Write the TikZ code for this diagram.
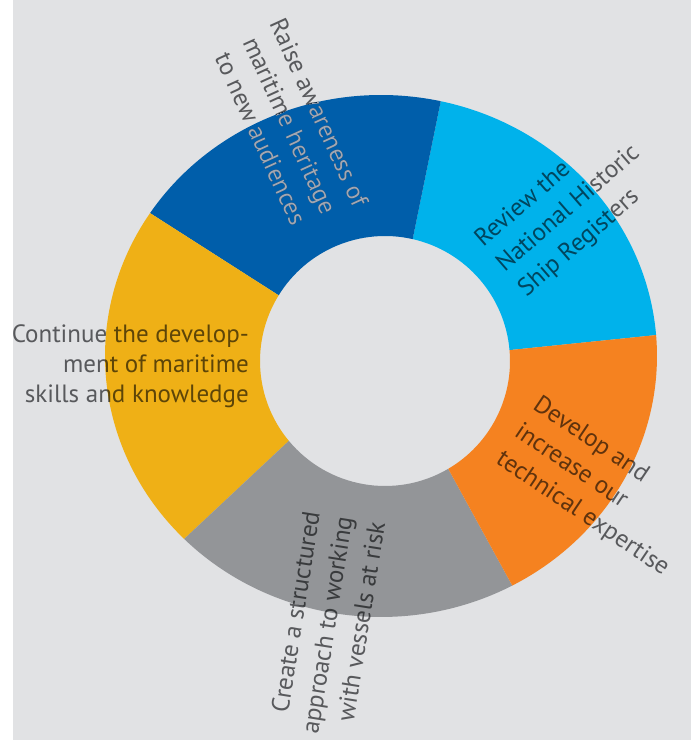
\documentclass[tikz,border=0pt]{standalone}
\usepackage{fontspec}
\newfontfamily\labfont{PT Sans}
\definecolor{bgc}{HTML}{E1E2E4}
\definecolor{segblue}{HTML}{005EAA}
\definecolor{segcyan}{HTML}{00B2EB}
\definecolor{segorange}{HTML}{F58220}
\definecolor{seggrey}{HTML}{939598}
\definecolor{segyellow}{HTML}{EFB016}
\definecolor{labc}{HTML}{646568}
\definecolor{labonblue}{HTML}{A0A7B4}
\newcommand\raiselines[2]{%
  \node[lab,anchor=base,text=#2] (#1a) at (0,0) {Raise awareness of};
  \node[lab,anchor=base,text=#2] (#1b) at (0,-32) {maritime heritage};
  \node[lab,anchor=base,text=#2] (#1c) at (0,-64) {to new audiences};}
\begin{document}
\begin{tikzpicture}[x=1pt,y=1pt,
  lab/.style={font=\labfont\fontsize{25}{31}\selectfont, text=labc, inner sep=0pt, transform shape}]
\useasboundingbox (0,0) rectangle (691,740);
\fill[white] (0,0) rectangle (13,740);
\fill[bgc] (13,0) rectangle (691,740);
\coordinate (O) at (381,384);
\coordinate (I) at (385,379);
% cyan
\fill[segcyan] ([shift={(O)}] 4.6:276 and 261) arc[start angle=4.6,end angle=77.5,x radius=276,y radius=261]
  -- ([shift={(I)}] 77.2:125) arc[start angle=77.2,end angle=5,radius=125] -- cycle;
% blue
\fill[segblue] ([shift={(O)}] 77.5:276 and 261) arc[start angle=77.5,end angle=146.8,x radius=276,y radius=261]
  -- ([shift={(I)}] 148.3:125) arc[start angle=148.3,end angle=77.2,radius=125] -- cycle;
% yellow
\fill[segyellow] ([shift={(O)}] 146.8:276 and 261) arc[start angle=146.8,end angle=224.5,x radius=276,y radius=261]
  -- ([shift={(I)}] 219.7:125) arc[start angle=219.7,end angle=148.3,radius=125] -- cycle;
% grey
\fill[seggrey] ([shift={(O)}] 224.5:276 and 261) arc[start angle=224.5,end angle=298.4,x radius=276,y radius=261]
  -- ([shift={(I)}] 300.4:125) arc[start angle=300.4,end angle=219.7,radius=125] -- cycle;
% orange
\fill[segorange] ([shift={(O)}] -61.6:276 and 261) arc[start angle=-61.6,end angle=4.6,x radius=276,y radius=261]
  -- ([shift={(I)}] 5:125) arc[start angle=5,end angle=-59.6,radius=125] -- cycle;
% labels
\begin{scope}[blend mode=multiply]
\begin{scope}[shift={(311.2,624.1)},rotate=-65.5]
  \raiselines{ra}{labc}
\end{scope}
\begin{scope}[shift={(483.1,492)},rotate=41]
  \node[lab,anchor=base west] (rv1) at (0,0) {Review the};
  \node[lab,anchor=base west] (rv2) at (0,-33) {National Historic};
  \node[lab,anchor=base west] (rv3) at (0,-66) {Ship Registers};
\end{scope}
\begin{scope}[shift={(531.7,332)},rotate=-34]
  \node[lab,anchor=base west] (dv1) at (0,0) {Develop and};
  \node[lab,anchor=base west] (dv2) at (0,-33) {increase our};
  \node[lab,anchor=base west] (dv3) at (0,-66) {technical expertise};
\end{scope}
\begin{scope}[shift={(320,227.2)},rotate=81]
  \node[lab,anchor=base east] (cr1) at (0,0) {Create a structured};
  \node[lab,anchor=base east] (cr2) at (0,-33) {approach to working};
  \node[lab,anchor=base east] (cr3) at (0,-66) {with vessels at risk};
\end{scope}
\node[lab,anchor=base east] (ct1) at (249,397) {Continue the develop-};
\node[lab,anchor=base east] (ct2) at (249,367) {ment of maritime};
\node[lab,anchor=base east] (ct3) at (249,337) {skills and knowledge};
\end{scope}
\begin{scope}
\clip ([shift={(O)}] 77.5:276 and 261) arc[start angle=77.5,end angle=146.8,x radius=276,y radius=261]
  -- ([shift={(I)}] 148.3:125) arc[start angle=148.3,end angle=77.2,radius=125] -- cycle;
\begin{scope}[shift={(311.2,624.1)},rotate=-65.5]
  \raiselines{rb}{labonblue}
\end{scope}
\end{scope}
\end{tikzpicture}
\end{document}
